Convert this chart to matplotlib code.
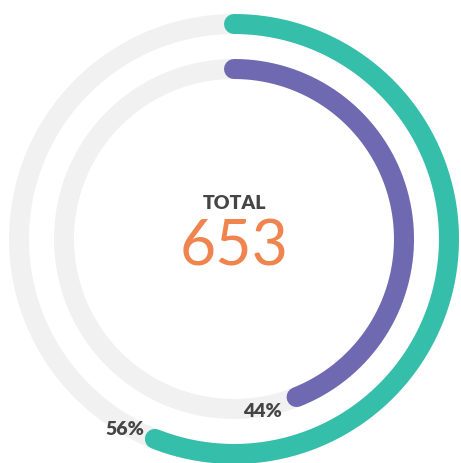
import numpy as np
import matplotlib
matplotlib.use("Agg")
from matplotlib import pyplot as plt

# data
series = ["outer", "inner"]
percents = [56, 44]
total = 653
total_label = "TOTAL"

# style
colors = ["#35bfab", "#6f69b2"]
track = "#f1f1f1"
radii = [215, 170]
label_shift = [8.5, 12.0]   # degrees past end of arc
cx, cy = 234, 240
lw = 20 * 72 / 100.0

fig = plt.figure(figsize=(4.61, 4.64), dpi=100)
ax = fig.add_axes([0, 0, 1, 1])
ax.set_xlim(0, 461)
ax.set_ylim(464, 0)
ax.set_aspect("equal")
ax.axis("off")

for name, p, c, r, sh in zip(series, percents, colors, radii, label_shift):
    t = np.linspace(0, 2 * np.pi, 400)
    ax.plot(cx + r * np.sin(t), cy - r * np.cos(t), color=track, lw=lw, zorder=1)
    end = 2 * np.pi * p / 100.0
    t = np.linspace(0, end, 300)
    ax.plot(cx + r * np.sin(t), cy - r * np.cos(t), color=c, lw=lw,
            solid_capstyle="round", zorder=2)
    a = end + np.radians(sh)
    rr = r + 3.5
    ax.text(cx + rr * np.sin(a), cy - rr * np.cos(a), "%d%%" % p,
            ha="center", va="center", fontsize=14, fontweight="heavy",
            color="#454545", family="Lato", zorder=3)

ax.text(cx, 204, total_label, ha="center", va="center", fontsize=14,
        fontweight="heavy", color="#454545", family="Lato")
ax.text(cx, 248, str(total), ha="center", va="center", fontsize=45,
        fontweight="normal", color="#f0844f", family="Lato")

fig.savefig("out.png", dpi=100)
